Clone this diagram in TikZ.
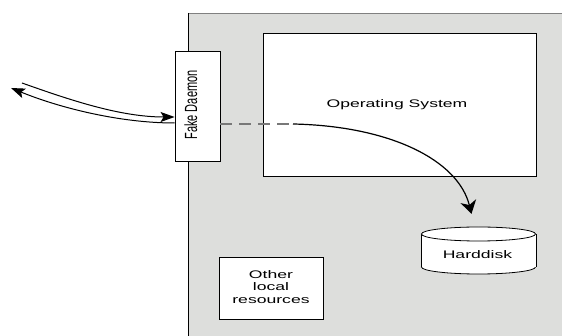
\documentclass[tikz,border=0pt]{standalone}
\usepackage{fontspec}
\setmainfont{Liberation Sans}[FakeStretch=1.6]
\newfontfamily\daemonfont{Liberation Sans}[FakeStretch=0.625]
\usetikzlibrary{arrows.meta}
\definecolor{hostgray}{RGB}{221,222,220}
\definecolor{dashgray}{RGB}{120,120,120}
\tikzset{
  box/.style={draw=black, line width=0.9pt, fill=white, inner sep=0pt},
  label/.style={font=\fontsize{11}{12.6}\selectfont, inner sep=0pt},
  flow/.style={line width=1pt, -{Stealth[length=14pt,width=10pt,inset=3pt]}},
  diskflow/.style={line width=1.2pt, -{Stealth[length=13pt,width=16pt,inset=4pt]}},
  dashflow/.style={draw=dashgray, line width=1.4pt, dash pattern=on 12pt off 7pt}
}
\begin{document}
\begin{tikzpicture}[x=1pt,y=-1pt]
  \clip (0,0) rectangle (562,336);
  \fill[white] (0,0) rectangle (562,336);

  % host machine
  \fill[hostgray] (188,13) rectangle (580,350);
  \draw[gray, line width=0.8pt] (188,13) -- (580,13);
  \draw[black, line width=0.9pt] (188,13) -- (188,350);

  % operating system
  \node[box, minimum width=273pt, minimum height=143pt] (os) at (399.5,104.5) {};
  \node[label, anchor=base] (ostext) at (397,108) {Operating System};

  % fake daemon
  \node[box, minimum width=45pt, minimum height=110pt] (fd) at (197.5,106) {};
  \node[inner sep=0pt, anchor=base, rotate=90,
        font=\daemonfont\fontsize{17.6}{20}\selectfont] (fdtext) at (197,105) {Fake Daemon};

  % other local resources
  \node[box, minimum width=104pt, minimum height=62pt] (res) at (271,288) {};
  \node[label, align=center, anchor=north] (restext) at (271,270) {Other\\local\\resources};

  % harddisk cylinder
  \node[inner sep=0pt, minimum width=115pt, minimum height=47pt] (hd) at (478.5,250.5) {};
  \draw[fill=white, line width=0.8pt] (478.5,267) ellipse [x radius=57pt, y radius=7pt];
  \fill[white] (421,234) rectangle (536,267);
  \draw[line width=0.8pt] (421,234) -- (421,267) (536,234) -- (536,267);
  \draw[fill=white, line width=0.8pt] (478.5,234) ellipse [x radius=57pt, y radius=7pt];
  \node[label, anchor=base] (hdtext) at (477.5,259) {Harddisk};

  % connectors
  \coordinate (netin) at (22,83);
  \coordinate (netout) at (11,88);
  \coordinate (bend) at (293,124);
  \coordinate (tip) at ([xshift=-7pt,yshift=13pt]hd.north);

  \draw[flow] (netin) .. controls (70,100) and (120,117) .. (fd.west |- 0,117);
  \draw[flow] (fd.west |- 0,123) .. controls (120,123) and (60,108) .. (netout);
  \draw[dashflow] (fd.east |- bend) -- (bend);
  \draw[diskflow] (bend) .. controls (390,126) and (458,160) .. (tip);
\end{tikzpicture}
\end{document}
